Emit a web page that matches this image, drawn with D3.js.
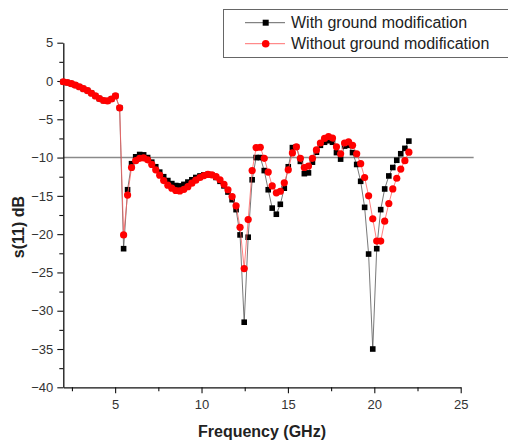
<!DOCTYPE html>
<html>
<head>
<meta charset="utf-8">
<script src="https://cdn.jsdelivr.net/npm/d3@7"></script>
<style>
body { margin: 0; background: #fff; }
svg { display: block; font-family: "Liberation Sans", Arial, sans-serif; }
</style>
</head>
<body>
<svg></svg>
<script>
// frequency points (GHz)
var freq = [2.00, 2.23, 2.47, 2.70, 2.93, 3.16, 3.40, 3.63, 3.86, 4.09,
    4.33, 4.56, 4.79, 5.02, 5.26, 5.49, 5.72, 5.95, 6.19, 6.42,
    6.65, 6.88, 7.12, 7.35, 7.58, 7.81, 8.05, 8.28, 8.51, 8.74,
    8.98, 9.21, 9.44, 9.67, 9.91, 10.14, 10.37, 10.60, 10.84, 11.07,
    11.30, 11.53, 11.77, 12.00, 12.23, 12.47, 12.70, 12.93, 13.16, 13.40,
    13.63, 13.86, 14.09, 14.33, 14.56, 14.79, 15.02, 15.26, 15.49, 15.72,
    15.95, 16.19, 16.42, 16.65, 16.88, 17.12, 17.35, 17.58, 17.81, 18.05,
    18.28, 18.51, 18.74, 18.98, 19.21, 19.44, 19.67, 19.91, 20.14, 20.37,
    20.60, 20.84, 21.07, 21.30, 21.53, 21.77, 22.00];

var withGround = [-0.1, -0.2, -0.35, -0.55, -0.75, -1.0, -1.25, -1.6, -1.95, -2.3,
    -2.55, -2.6, -2.35, -1.95, -3.5, -21.9, -14.2, -10.8, -9.9, -9.6,
    -9.65, -10.0, -10.6, -11.2, -11.9, -12.5, -13.0, -13.4, -13.65, -13.7,
    -13.5, -13.2, -12.9, -12.6, -12.4, -12.25, -12.2, -12.3, -12.6, -13.1,
    -13.7, -14.5, -15.5, -16.8, -20.1, -31.5, -20.4, -12.9, -10.0, -10.0,
    -11.7, -14.2, -16.6, -17.4, -16.1, -14.0, -11.2, -8.7, -8.6, -10.5,
    -12.1, -12.0, -10.6, -9.3, -8.4, -8.0, -7.8, -8.0, -9.35, -10.2,
    -8.5, -8.4, -9.35, -10.9, -13.1, -16.5, -22.6, -35.0, -21.9, -16.8,
    -14.1, -12.4, -11.3, -10.35, -9.5, -8.8, -7.85];

var withoutGround = [-0.1, -0.2, -0.35, -0.55, -0.75, -1.0, -1.25, -1.6, -1.95, -2.3,
    -2.55, -2.6, -2.35, -1.95, -3.5, -20.1, -14.9, -11.3, -10.4, -10.1,
    -10.05, -10.3, -10.9, -11.6, -12.3, -13.0, -13.6, -14.0, -14.3, -14.35,
    -14.15, -13.8, -13.35, -12.95, -12.6, -12.35, -12.2, -12.25, -12.5, -12.9,
    -13.5, -14.2, -15.1, -16.3, -19.1, -24.5, -18.1, -11.7, -8.7, -8.65,
    -10.1, -11.9, -13.7, -14.6, -14.4, -13.3, -11.6, -9.4, -8.6, -10.1,
    -11.3, -11.1, -10.1, -9.0, -8.1, -7.5, -7.25, -7.45, -8.6, -9.5,
    -8.1, -7.95, -8.4, -9.5, -10.8, -12.6, -15.0, -18.0, -20.9, -20.9,
    -18.3, -16.0, -14.1, -12.7, -11.5, -10.4, -9.3];

var xMajor = [5, 10, 15, 20, 25];
var xMinor = [2.5, 7.5, 12.5, 17.5, 22.5];
var yMajor = [5, 0, -5, -10, -15, -20, -25, -30, -35, -40];
var yMinor = [2.5, -2.5, -7.5, -12.5, -17.5, -22.5, -27.5, -32.5, -37.5];
var refLevel = -10;
var seriesNames = ["With ground modification", "Without ground modification"];

var screen = {width: 508, height: 443};

var svg = d3.select("svg")
    .attr("width", screen.width)
    .attr("height", screen.height);

var xScale = d3.scaleLinear().domain([2, 25]).range([63.3, 460.7]);
var yScale = d3.scaleLinear().domain([-40, 5]).range([387.3, 42.7]);

// reference line at -10 dB
svg.append("line")
    .attr("x1", xScale(2))
    .attr("x2", xScale(25.75))
    .attr("y1", yScale(refLevel))
    .attr("y2", yScale(refLevel))
    .attr("stroke", "#8a8a8a")
    .attr("stroke-width", 1.4);

// axes
var styleAxis = function(g)
{
    g.select(".domain").attr("stroke", "#111").attr("stroke-width", 1.3);
    g.selectAll(".tick line").attr("stroke", "#111").attr("stroke-width", 1.1);
    g.selectAll(".tick text").attr("fill", "#333").style("font-size", "13px")
        .style("font-family", "'Liberation Sans', Arial, sans-serif");
};

var xAxisG = svg.append("g")
    .attr("transform", "translate(0," + yScale(-40) + ")")
    .call(d3.axisBottom(xScale).tickValues(xMajor).tickSize(6).tickPadding(6).tickSizeOuter(0));
styleAxis(xAxisG);

var xMinorG = svg.append("g")
    .attr("transform", "translate(0," + yScale(-40) + ")")
    .call(d3.axisBottom(xScale).tickValues(xMinor).tickSize(4).tickFormat("").tickSizeOuter(0));
styleAxis(xMinorG);
xMinorG.select(".domain").remove();

var yAxisG = svg.append("g")
    .attr("transform", "translate(" + xScale(2) + ",0)")
    .call(d3.axisLeft(yScale).tickValues(yMajor).tickSize(6).tickPadding(4).tickSizeOuter(0));
styleAxis(yAxisG);

var yMinorG = svg.append("g")
    .attr("transform", "translate(" + xScale(2) + ",0)")
    .call(d3.axisLeft(yScale).tickValues(yMinor).tickSize(4).tickFormat("").tickSizeOuter(0));
styleAxis(yMinorG);
yMinorG.select(".domain").remove();

// axis titles
svg.append("text")
    .attr("x", 262)
    .attr("y", 437)
    .attr("text-anchor", "middle")
    .attr("font-weight", "bold")
    .attr("font-size", 16)
    .attr("fill", "#222")
    .text("Frequency (GHz)");

svg.append("text")
    .attr("transform", "translate(24,227) rotate(-90)")
    .attr("text-anchor", "middle")
    .attr("font-weight", "bold")
    .attr("font-size", 16)
    .attr("fill", "#222")
    .text("s(11) dB");

// series
var blackPts = freq.map(function(f, i){ return {x: f, y: withGround[i]}; });
var redPts = freq.map(function(f, i){ return {x: f, y: withoutGround[i]}; });

var line = d3.line()
    .x(function(d){ return xScale(d.x); })
    .y(function(d){ return yScale(d.y); });

svg.append("path")
    .datum(blackPts)
    .attr("d", line)
    .attr("fill", "none")
    .attr("stroke", "#555")
    .attr("stroke-width", 0.8);

svg.append("g").selectAll("rect")
    .data(blackPts)
    .enter()
    .append("rect")
    .attr("x", function(d){ return xScale(d.x) - 2.8; })
    .attr("y", function(d){ return yScale(d.y) - 2.8; })
    .attr("width", 5.6)
    .attr("height", 5.6)
    .attr("fill", "#000");

svg.append("path")
    .datum(redPts)
    .attr("d", line)
    .attr("fill", "none")
    .attr("stroke", "#ff6060")
    .attr("stroke-width", 0.8);

svg.append("g").selectAll("circle")
    .data(redPts)
    .enter()
    .append("circle")
    .attr("cx", function(d){ return xScale(d.x); })
    .attr("cy", function(d){ return yScale(d.y); })
    .attr("r", 3.6)
    .attr("fill", "#ff0000");

// legend
var legend = svg.append("g");
legend.append("rect")
    .attr("x", 223.5)
    .attr("y", 9.5)
    .attr("width", 290)
    .attr("height", 48)
    .attr("fill", "#fff")
    .attr("stroke", "#666")
    .attr("stroke-width", 1);

var legendRows = [
    {name: seriesNames[0], color: "#555", y: 22.7, kind: "square"},
    {name: seriesNames[1], color: "#ff6060", y: 43.7, kind: "circle"}
];

legendRows.forEach(function(r)
{
    legend.append("line")
        .attr("x1", 245).attr("x2", 285)
        .attr("y1", r.y).attr("y2", r.y)
        .attr("stroke", r.color)
        .attr("stroke-width", 0.9);
    if (r.kind == "square")
    {
        legend.append("rect")
            .attr("x", 265.7 - 3).attr("y", r.y - 3)
            .attr("width", 6).attr("height", 6)
            .attr("fill", "#000");
    }
    else
    {
        legend.append("circle")
            .attr("cx", 265.7).attr("cy", r.y)
            .attr("r", 3.8)
            .attr("fill", "#ff0000");
    }
    legend.append("text")
        .attr("x", 291)
        .attr("y", r.y + 5.5)
        .attr("font-size", 16)
        .attr("fill", "#222")
        .text(r.name);
});
</script>
</body>
</html>
